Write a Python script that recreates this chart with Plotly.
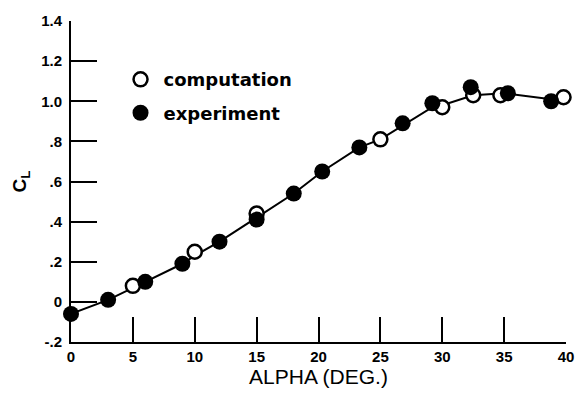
import plotly.graph_objects as go

# Data
exp_alpha = [0.0, 3.0, 6.0, 9.0, 12.0, 15.0, 18.0, 20.3, 23.3, 26.8, 29.2, 32.3, 35.3, 38.8]
exp_cl = [-0.06, 0.01, 0.10, 0.19, 0.30, 0.41, 0.54, 0.65, 0.77, 0.89, 0.99, 1.07, 1.04, 1.00]

comp_alpha = [5.0, 10.0, 15.0, 25.0, 30.0, 32.5, 34.7, 39.8]
comp_cl = [0.08, 0.25, 0.44, 0.81, 0.97, 1.03, 1.03, 1.02]

curve_alpha = [0.0, 3.0, 5.0, 6.0, 9.0, 10.0, 12.0, 15.0, 18.0, 20.3, 23.3, 25.0, 26.8, 29.2, 30.0, 32.5, 35.0, 38.8, 39.8]
curve_cl = [-0.06, 0.01, 0.07, 0.10, 0.19, 0.23, 0.30, 0.42, 0.54, 0.65, 0.77, 0.81, 0.88, 0.97, 0.98, 1.03, 1.04, 1.01, 1.02]

x_ticks = [0, 5, 10, 15, 20, 25, 30, 35, 40]
y_ticks = [-0.2, 0, 0.2, 0.4, 0.6, 0.8, 1.0, 1.2, 1.4]
y_ticklabels = ["-.2", "0", ".2", ".4", ".6", ".8", "1.0", "1.2", "1.4"]

fig = go.Figure()
fig.add_trace(go.Scatter(x=curve_alpha, y=curve_cl, mode="lines",
                         line=dict(color="black", width=2), showlegend=False,
                         hoverinfo="skip"))
fig.add_trace(go.Scatter(x=comp_alpha, y=comp_cl, mode="markers", name="computation",
                         legendgroup="a",
                         marker=dict(symbol="circle", size=14, color="white",
                                     line=dict(color="black", width=2.5))))
fig.add_trace(go.Scatter(x=exp_alpha, y=exp_cl, mode="markers", name="experiment",
                         legendgroup="b",
                         marker=dict(symbol="circle", size=16, color="black",
                                     line=dict(color="black", width=0))))

fig.update_layout(
    width=586, height=396,
    margin=dict(l=71, r=13, t=15, b=48),
    plot_bgcolor="white", paper_bgcolor="white",
    font=dict(family="Liberation Sans", color="black"),
    legend=dict(x=0.094, y=0.875, xanchor="left", yanchor="top",
                bgcolor="rgba(0,0,0,0)", tracegroupgap=7,
                traceorder="grouped", itemwidth=36,
                font=dict(family="DejaVu Sans", size=18, color="black", weight="bold")),
    xaxis=dict(range=[0, 40], tickvals=x_ticks, ticks="inside", ticklen=25,
               tickwidth=2, tickcolor="black", showline=True, linecolor="black",
               linewidth=2, showgrid=False, zeroline=False,
               tickfont=dict(size=15, family="Liberation Sans", weight="bold"),
               title=dict(text="ALPHA (DEG.)", font=dict(size=21, weight=500), standoff=4)),
    yaxis=dict(range=[-0.2, 1.4], tickvals=y_ticks, ticktext=y_ticklabels,
               ticks="inside", ticklen=26, tickwidth=2, tickcolor="black",
               showline=True, linecolor="black", linewidth=2, showgrid=False,
               zeroline=False, ticklabelstandoff=4,
               tickfont=dict(size=15, family="Liberation Sans", weight="bold"),
               title=dict(text="C<sub>L</sub>", font=dict(size=19, weight="bold"), standoff=9)),
)
for tr in fig.data:
    tr.cliponaxis = False

fig.write_html("out.html")
